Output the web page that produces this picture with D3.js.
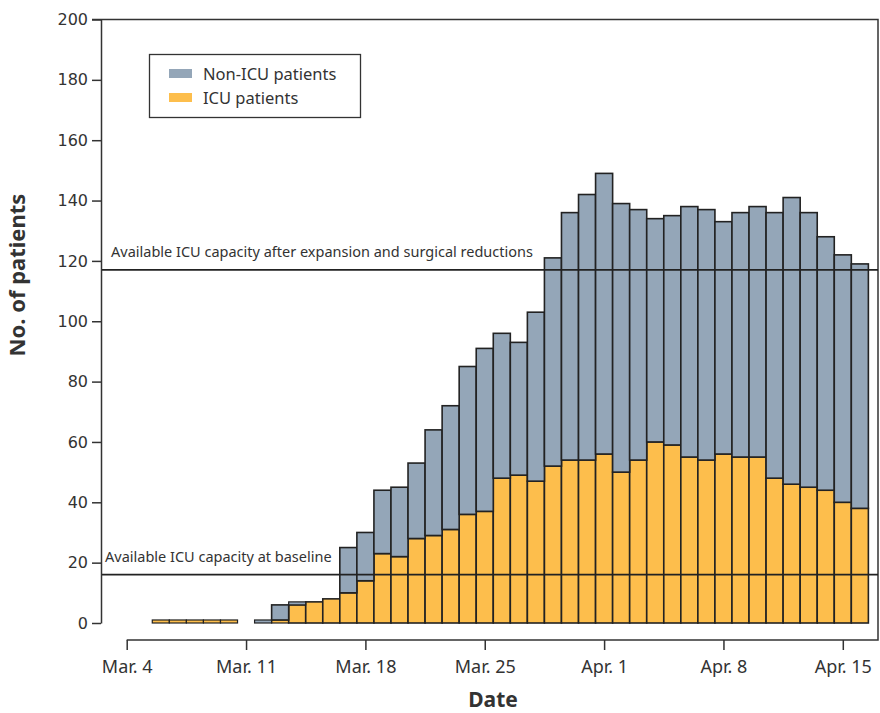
<!DOCTYPE html>
<html>
<head>
<meta charset="utf-8">
<script src="https://cdn.jsdelivr.net/npm/d3@7"></script>
<style>
body { margin: 0; background: #fff; }
text { fill: #333; }
</style>
</head>
<body>
<svg></svg>
<script>
let width = 880, height = 713;

// one entry per day, Mar 6 .. Apr 16 (2020)
let firstDay = "2020-03-06";
let icu = [1, 1, 1, 1, 1, 0, 0, 1, 6, 7, 8, 10, 14, 23, 22, 28, 29, 31, 36, 37, 48, 49, 47, 52, 54, 54, 56, 50, 54, 60, 59, 55, 54, 56, 55, 55, 48, 46, 45, 44, 40, 38];
let total = [1, 1, 1, 1, 1, 0, 1, 6, 7, 7, 8, 25, 30, 44, 45, 53, 64, 72, 85, 91, 96, 93, 103, 121, 136, 142, 149, 139, 137, 134, 135, 138, 137, 133, 136, 138, 136, 141, 136, 128, 122, 119];

let tickDates = ["2020-03-04", "2020-03-11", "2020-03-18", "2020-03-25", "2020-04-01", "2020-04-08", "2020-04-15"];
let tickLabels = ["Mar. 4", "Mar. 11", "Mar. 18", "Mar. 25", "Apr. 1", "Apr. 8", "Apr. 15"];

let capacity = [
  {value: 117, label: "Available ICU capacity after expansion and surgical reductions", lx: 111},
  {value: 16, label: "Available ICU capacity at baseline", lx: 105}
];

let colors = {icu: "#fdbe4c", non: "#94a6b8"};

let parse = d3.utcParse("%Y-%m-%d");
let day0 = parse(firstDay);
let data = icu.map((v, i) => ({
  date: d3.utcDay.offset(day0, i),
  icu: v,
  non: total[i] - v
}));

let svg = d3.select("svg")
  .attr("width", width)
  .attr("height", height);

let x = d3.scaleUtc()
  .domain([parse("2020-03-04"), parse("2020-04-15")])
  .range([126.7, 842.8]);

let y = d3.scaleLinear()
  .domain([0, 200])
  .range([623, 19.5]);

let bw = x(parse("2020-03-05")) - x(parse("2020-03-04"));

// frame: top + right + bottom (x axis line)
svg.append("path")
  .attr("d", "M92," + y(200) + "H878V640H" + x(parse("2020-03-04")))
  .attr("fill", "none")
  .attr("stroke", "#333")
  .attr("stroke-width", 1.5);

// bars
let stack = d3.stack().keys(["icu", "non"])(data);

svg.append("g")
  .selectAll("g")
  .data(stack)
  .enter()
  .append("g")
  .attr("fill", d => colors[d.key])
  .selectAll("rect")
  .data(d => d.filter(s => s[1] - s[0] > 0))
  .enter()
  .append("rect")
    .attr("x", d => x(d.data.date) - bw / 2)
    .attr("width", bw)
    .attr("y", d => y(d[1]))
    .attr("height", d => y(d[0]) - y(d[1]))
    .attr("stroke", "#222")
    .attr("stroke-width", d => (d[1] - d[0]) < 2 ? 1.2 : 1.6);

// capacity lines
let cap = svg.append("g");
cap.selectAll("line")
  .data(capacity)
  .enter()
  .append("line")
  .attr("x1", 101)
  .attr("x2", 878)
  .attr("y1", d => y(d.value))
  .attr("y2", d => y(d.value))
  .attr("stroke", "#222")
  .attr("stroke-width", 1.8);
cap.selectAll("text")
  .data(capacity)
  .enter()
  .append("text")
  .attr("x", d => d.lx)
  .attr("y", d => y(d.value) - 13)
  .attr("font-family", "Noto Sans")
  .attr("font-size", 14.5)
  .text(d => d.label);

// y axis
let yAxis = svg.append("g")
  .attr("transform", "translate(101,0)")
  .call(d3.axisLeft(y).tickValues(d3.range(0, 201, 20)).tickSize(9).tickSizeOuter(0).tickPadding(4));
yAxis.selectAll("path, line").attr("stroke", "#333").attr("stroke-width", 1.5);
yAxis.selectAll("text").attr("font-family", "DejaVu Sans").attr("font-size", 16).style("fill", "#333");

// x axis (ticks only, line is part of the frame)
let xAxis = svg.append("g")
  .attr("transform", "translate(0,640)")
  .call(d3.axisBottom(x)
    .tickValues(tickDates.map(parse))
    .tickFormat((d, i) => tickLabels[i])
    .tickSize(10)
    .tickPadding(10));
xAxis.select(".domain").remove();
xAxis.selectAll("line").attr("stroke", "#333").attr("stroke-width", 1.5);
xAxis.selectAll("text").attr("font-family", "Noto Sans").attr("font-size", 18).style("fill", "#333");

// axis titles
svg.append("text")
  .attr("x", 493)
  .attr("y", 707)
  .attr("text-anchor", "middle")
  .attr("font-family", "Noto Sans")
  .attr("font-weight", "bold")
  .attr("font-size", 21)
  .text("Date");

svg.append("text")
  .attr("transform", "translate(25,275) rotate(-90)")
  .attr("text-anchor", "middle")
  .attr("font-family", "Noto Sans")
  .attr("font-weight", "bold")
  .attr("font-size", 22)
  .text("No. of patients");

// legend
let legend = svg.append("g");
legend.append("rect")
  .attr("x", 149.5).attr("y", 54.5)
  .attr("width", 211).attr("height", 63)
  .attr("fill", "#fff")
  .attr("stroke", "#333")
  .attr("stroke-width", 1.3);
let items = [{key: "non", label: "Non-ICU patients"}, {key: "icu", label: "ICU patients"}];
let li = legend.selectAll("g")
  .data(items)
  .enter()
  .append("g")
  .attr("transform", (d, i) => "translate(0," + (i * 24) + ")");
li.append("rect")
  .attr("x", 169).attr("y", 69)
  .attr("width", 23).attr("height", 9)
  .attr("fill", d => colors[d.key]);
li.append("text")
  .attr("x", 203).attr("y", 80)
  .attr("font-family", "Noto Sans")
  .attr("font-size", 16.5)
  .text(d => d.label);
</script>
</body>
</html>
